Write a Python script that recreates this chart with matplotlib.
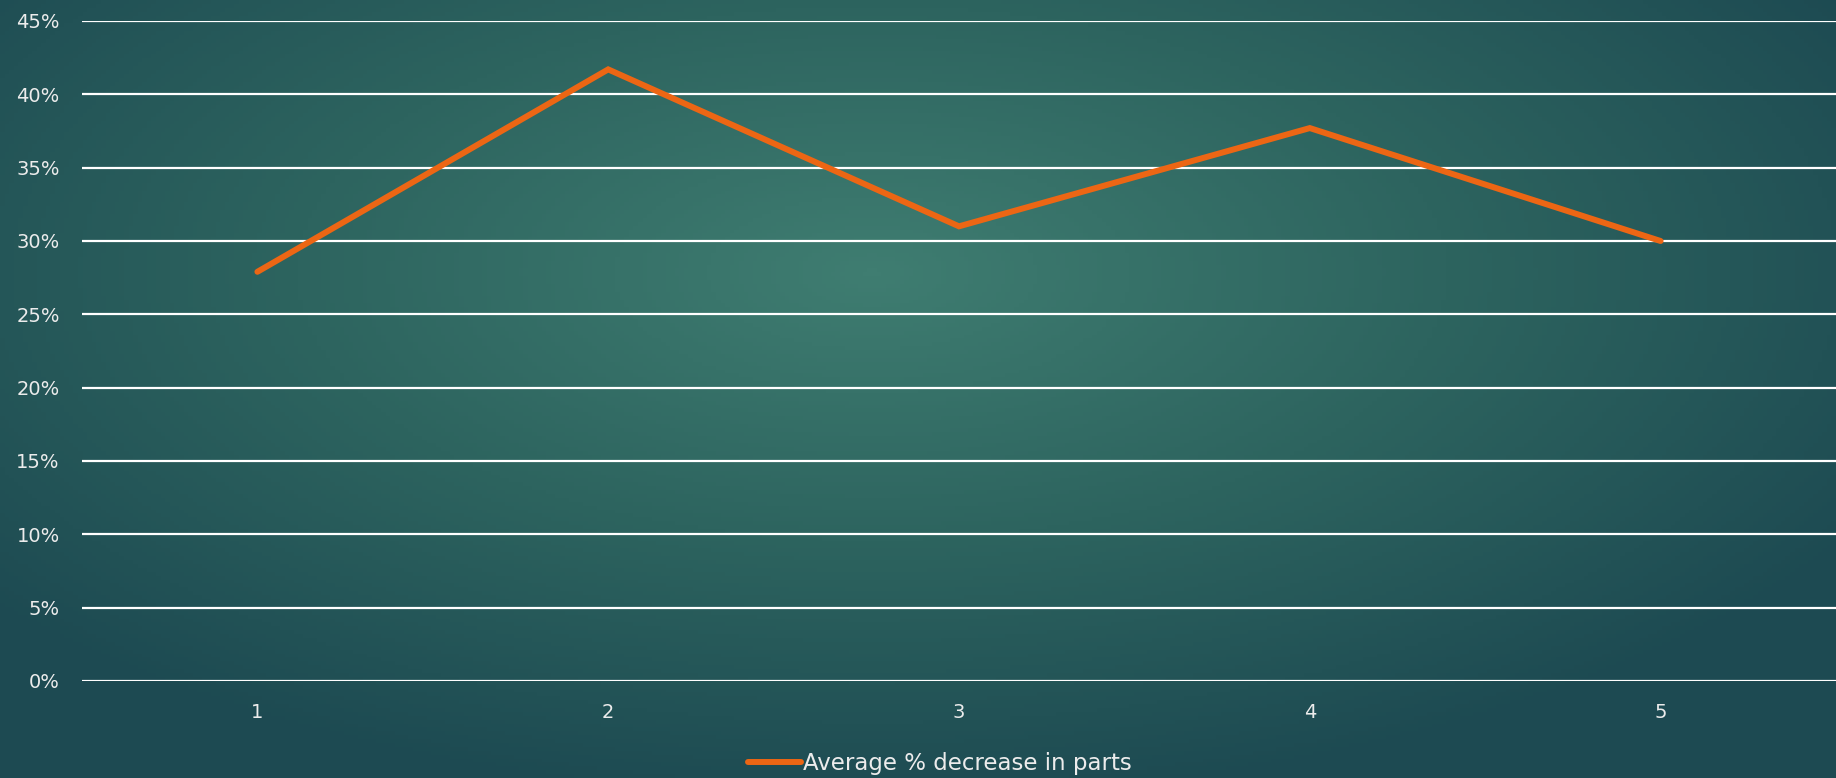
import numpy as np
import matplotlib.pyplot as plt
from matplotlib.colors import LinearSegmentedColormap
from matplotlib.ticker import PercentFormatter

# Average decrease per trial
trials = [1, 2, 3, 4, 5]
avg_decrease = [0.279, 0.417, 0.310, 0.377, 0.300]
series_name = "Average % decrease in parts"

text_color = "#ececec"
line_color = "#ec6614"

fig = plt.figure(figsize=(18.36, 7.78), dpi=100)

# radial background, lighter teal in the middle
bg = fig.add_axes([0, 0, 1, 1])
gx, gy = np.meshgrid(np.linspace(-1, 1, 400), np.linspace(-1, 1, 200))
r = np.sqrt(((gx + 0.05) / 1.0) ** 2 + ((gy + 0.3) / 1.1) ** 2)
cmap = LinearSegmentedColormap.from_list("bg", ["#3f7d71", "#2d645f", "#1d4a52"])
bg.imshow(np.clip(r / 1.25, 0, 1), cmap=cmap, aspect="auto", extent=[0, 1, 0, 1])
bg.axis("off")

ax = fig.add_axes([82 / 1836, 97 / 778, 1 - 82 / 1836, 660 / 778])
ax.patch.set_alpha(0)
ax.plot(trials, avg_decrease, color=line_color, linewidth=4.3,
        solid_capstyle="round", solid_joinstyle="miter", label=series_name, zorder=3)

ax.set_xlim(0.5, 5.5)
ax.set_ylim(0, 0.45)
ax.set_yticks(np.arange(0, 0.451, 0.05))
ax.yaxis.set_major_formatter(PercentFormatter(1.0, decimals=0))
ax.set_xticks(trials)
ax.grid(axis="y", color="white", linewidth=1.6)
ax.set_axisbelow(True)
for s in ax.spines.values():
    s.set_visible(False)
ax.tick_params(length=0, colors=text_color, labelsize=14)
ax.tick_params(axis="x", pad=16)
ax.tick_params(axis="y", pad=16)

fig.legend(loc="center", bbox_to_anchor=(0.512, 0.018), frameon=False,
           fontsize=16.5, labelcolor=text_color, handlelength=2.3,
           handletextpad=0.1)

fig.savefig("out.png", dpi=100)
